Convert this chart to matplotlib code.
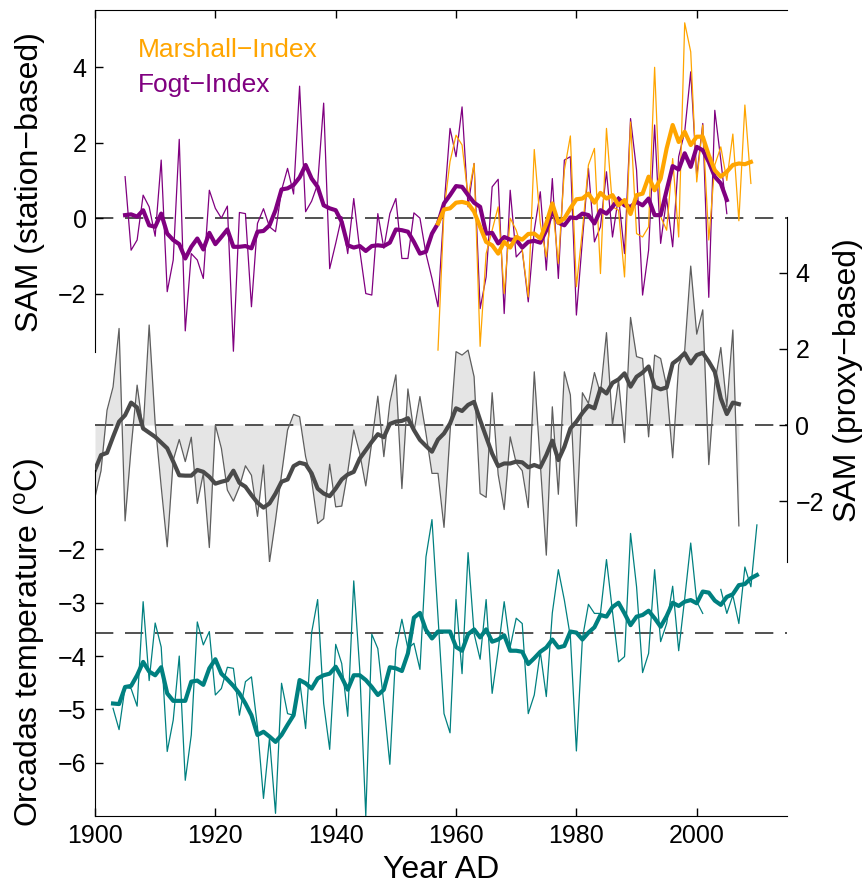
import numpy as np
import matplotlib
matplotlib.use('Agg')
from matplotlib import pyplot as plt

plt.rcParams['font.family'] = ['Liberation Sans', 'DejaVu Sans']
plt.rcParams['mathtext.fontset'] = 'custom'
plt.rcParams['mathtext.rm'] = 'Liberation Sans'
plt.rcParams['mathtext.it'] = 'Liberation Sans:italic'

# --- data ---
fogt_years = np.arange(1905, 2006)
fogt = [1.1, -0.85, -0.58, 0.61, 0.30, -0.48, 1.54, -1.95, -1.11, 2.09,
        -2.99, -0.94, -1.11, -1.60, 0.74, 0.26, 0.0, 0.32, -3.53, 0.15,
        0.12, -2.35, -0.14, 0.25, -0.23, -0.36, 0.74, 1.32, 0.64, 3.5,
        0.17, 0.45, 0.9, 3.05, -1.34, -0.67, 0.04, -0.94, 0.52, -0.85,
        -2.0, -2.04, 0.12, -0.80, 0.12, 0.52, -1.07, -1.07, 0.14, 0.0,
        -0.94, -1.6, -2.35, 0.3, 2.38, 1.63, 2.95, 0.3, 1.45, -2.4,
        -1.56, 0.83, 1.03, -2.53, 0.74, -1.03, -0.85, -2.22, -0.32, 0.70,
        -1.38, 1.05, -1.6, 1.54, 1.63, -2.57, -0.58, 1.32, -0.63, -0.23,
        1.23, -0.5, 0.57, -0.94, 2.64, 1.27, -2.04, -0.85, 2.47, -0.67,
        0.52, -0.76, 1.63, 2.29, 3.88, 1.1, 2.51, -2.1, 2.86, 1.54, 0.12]
fogt_smooth = [0.08, 0.1, 0.04, 0.21, -0.19, -0.23, 0.12, -0.41, -0.58, -0.69,
               -1.07, -0.76, -0.54, -0.83, -0.39, -0.69, -0.5, -0.3, -0.76, -0.76,
               -0.74, -0.8, -0.36, -0.34, -0.19, 0.21, 0.76, 0.79, 0.88, 1.08,
               1.41, 1.05, 0.83, 0.34, 0.26, 0.21, -0.1, -0.72, -0.78, -0.74,
               -0.87, -0.74, -0.72, -0.74, -0.65, -0.3, -0.32, -0.36, -0.63, -0.94,
               -0.89, -0.41, -0.14, 0.39, 0.61, 0.85, 0.83, 0.61, 0.41, 0.3,
               -0.41, -0.39, -0.67, -0.5, -0.57, -0.58, -0.78, -0.63, -0.6, -0.65,
               -0.32, 0.21, -0.12, -0.19, 0.02, 0.0, 0.12, 0.08, -0.14, 0.21,
               0.12, 0.3, 0.52, 0.34, 0.3, 0.43, 0.34, 0.52, 0.08, 0.08,
               0.74, 1.38, 1.29, 1.72, 1.36, 1.89, 1.8, 1.49, 1.1, 0.92, 0.48]

marshall_years = np.arange(1957, 2010)
marshall = [-3.5, 0.2, 1.5, 2.2, 1.94, 0.57, 1.45, -3.4, -0.94, -0.32,
            0.3, -2.0, 0.0, -0.32, -0.85, -2.09, 1.82, -0.14, -1.03, 0.39,
            -1.2, 1.27, 2.18, -1.82, -0.32, 1.41, 1.85, -1.47, 2.38, 0.3,
            0.21, -1.56, 2.55, -0.41, -0.5, -0.23, 4.0, 0.04, -0.32, 1.58,
            -0.5, 5.18, 4.41, 0.96, 2.47, -0.58, 1.41, 1.89, 1.0, 2.23,
            -0.07, 3.0, 0.92]
marshall_smooth = [-0.14, 0.23, 0.26, 0.41, 0.43, 0.39, 0.17, -0.23, -0.63, -0.72,
                   -0.94, -0.63, -0.78, -0.5, -0.57, -0.42, -0.41, -0.54, -0.14, 0.39,
                   -0.12, -0.01, 0.26, 0.5, 0.52, 0.65, 0.41, 0.67, 0.52, 0.61,
                   0.34, 0.48, 0.11, 0.61, 0.65, 1.1, 0.74, 1.05, 1.85, 2.47,
                   2.02, 2.29, 1.94, 2.16, 2.16, 1.67, 1.27, 1.1, 1.23, 1.41,
                   1.45, 1.43, 1.49]

proxy_years = np.arange(1900, 2008)
proxy = [-1.9, -1.2, 0.39, 1.0, 2.54, -2.52, -0.6, 1.05, -0.13, 2.63,
         0.04, -1.62, -3.2, -0.92, -0.38, -0.96, -0.32, -2.06, -1.27, -3.22,
         0.0, -0.61, -1.71, -2.0, -1.62, -1.07, -1.32, -2.4, -1.05, -3.6,
         -2.5, -1.3, -0.13, 0.28, 0.22, -0.83, -1.45, -2.59, -2.46, -1.03,
         -2.15, -2.13, -1.23, -0.13, -0.75, -1.6, -0.44, 0.76, -0.83, 0.59,
         1.32, -1.67, 0.95, -0.18, 0.75, -0.22, -1.27, -1.27, -2.69, -0.2,
         1.93, 1.84, 1.97, 1.27, -1.8, -1.9, 0.85, -1.3, -2.22, -0.31,
         -1.0, -1.2, -2.17, 1.4, -1.0, -3.42, 0.48, -1.82, 1.4, 0.79,
         -2.66, 0.85, 0.57, 1.38, 0.83, 2.43, 0.0, 1.18, -0.46, 2.83,
         1.8, 1.75, -0.31, 1.84, 1.75, 1.01, -0.86, 1.58, 1.96, 4.18,
         2.39, 3.03, -1.04, 1.1, 2.04, 0.48, 2.5, -2.65]
proxy_smooth = [-1.18, -0.79, -0.73, -0.31, 0.09, 0.26, 0.59, 0.46, -0.09, -0.2,
                -0.31, -0.46, -0.61, -0.96, -1.32, -1.33, -1.33, -1.18, -1.23, -1.36,
                -1.54, -1.49, -1.45, -1.2, -1.52, -1.62, -1.84, -2.04, -2.17, -2.06,
                -1.8, -1.49, -1.43, -1.08, -0.99, -1.03, -1.27, -1.67, -1.8, -1.87,
                -1.67, -1.43, -1.3, -1.23, -0.88, -0.66, -0.44, -0.24, -0.32, 0.03,
                0.09, 0.11, 0.18, -0.13, -0.39, -0.55, -0.7, -0.38, -0.22, 0.04,
                0.44, 0.37, 0.53, 0.61, 0.13, -0.31, -0.75, -1.08, -1.01, -1.01,
                -0.96, -0.98, -1.11, -1.05, -1.11, -0.79, -0.41, -0.92, -0.57, -0.09,
                0.09, 0.32, 0.51, 0.44, 0.96, 0.83, 1.11, 1.2, 1.36, 1.01,
                1.27, 1.38, 1.54, 1.01, 0.94, 0.99, 1.62, 1.74, 1.89, 1.62,
                1.84, 1.9, 1.67, 1.4, 0.7, 0.29, 0.59, 0.55]

orcadas_years = np.arange(1903, 2011)
orcadas = [-4.98, -5.38, -4.58, -4.61, -4.94, -2.98, -4.46, -3.38, -3.83, -5.79,
           -5.2, -4.0, -6.33, -5.48, -3.36, -3.79, -3.54, -4.73, -4.61, -4.21,
           -4.23, -5.11, -4.48, -4.39, -5.33, -6.67, -5.54, -6.95, -4.51, -5.08,
           -5.11, -4.45, -5.36, -3.56, -2.94, -4.89, -5.75, -3.78, -4.14, -5.13,
           -2.59, -4.26, -7.0, -3.59, -3.86, -4.89, -6.03, -3.88, -3.31, -3.86,
           -3.76, -4.25, -2.14, -1.44, -3.26, -5.08, -5.44, -2.94, -4.33, -2.06,
           -3.58, -4.06, -2.94, -4.7, -3.89, -2.98, -3.83, -3.29, -3.39, -5.08,
           -4.73, -3.92, -4.76, -3.19, -2.38, -2.95, -3.64, -5.78, -3.67, -3.03,
           -3.2, -3.2, -2.19, -3.17, -4.11, -4.01, -1.7, -2.7, -4.31, -3.95,
           -2.38, -3.73, -3.39, -2.69, -3.9, -2.92, -1.88, -2.98, -3.2, np.nan,
           np.nan, -2.75, -3.2, -2.86, -3.39, -2.33, -2.7, -1.54]
orcadas_smooth = [-4.89, -4.9, -4.58, -4.56, -4.36, -4.11, -4.29, -4.36, -4.21, -4.7,
                  -4.84, -4.84, -4.84, -4.48, -4.46, -4.54, -4.23, -4.06, -4.33, -4.44,
                  -4.56, -4.7, -4.89, -5.11, -5.48, -5.42, -5.51, -5.61, -5.48, -5.29,
                  -5.11, -4.45, -4.51, -4.61, -4.42, -4.36, -4.33, -4.2, -4.4, -4.63,
                  -4.36, -4.36, -4.45, -4.58, -4.73, -4.63, -4.21, -4.23, -4.28, -3.95,
                  -3.28, -3.19, -3.51, -3.67, -3.54, -3.54, -3.54, -3.83, -3.9, -3.59,
                  -3.5, -3.65, -3.5, -3.73, -3.69, -3.61, -3.9, -3.9, -3.92, -4.15,
                  -4.04, -3.92, -3.84, -3.69, -3.84, -3.81, -3.54, -3.56, -3.69, -3.56,
                  -3.46, -3.23, -3.26, -3.08, -3.0, -3.2, -3.42, -3.26, -3.23, -3.15,
                  -3.29, -3.45, -3.25, -3.0, -3.06, -2.98, -2.95, -3.01, -2.79, -2.81,
                  -2.96, -3.04, -2.89, -2.84, -2.67, -2.65, -2.54, -2.48]
orcadas_mean = -3.56

year_ticks = [1900, 1920, 1940, 1960, 1980, 2000]

ORANGE = '#FFA500'
PURPLE = '#800080'
TEAL = '#008080'
W, H = 867, 888


def rect(x0, y0, x1, y1):
    # pixel box -> figure fraction
    return [x0 / W, 1 - y1 / H, (x1 - x0) / W, (y1 - y0) / H]


def dashed_zero(ax, y):
    ax.axhline(y, color='#333333', lw=1.2, ls=(0, (11, 7)), zorder=1)


fig = plt.figure(figsize=(W / 100, H / 100), dpi=100)

tick_kw = dict(direction='in', length=6, width=1, labelsize=18, pad=6)

# middle panel: proxy-based SAM
ax_m = fig.add_axes(rect(95, 217, 787, 562))
ax_m.patch.set_visible(False)
ax_m.fill_between(proxy_years, proxy, 0, color='#e5e5e5', lw=0, zorder=0)
dashed_zero(ax_m, 0)
ax_m.plot(proxy_years, proxy, color='#5e5e5e', lw=0.9, zorder=2)
ax_m.plot(proxy_years, proxy_smooth, color='#4a4a4a', lw=3, zorder=3)
ax_m.set_xlim(1900, 2015)
ax_m.set_ylim(-3.6, 5.47)
for s in ['left', 'top', 'bottom']:
    ax_m.spines[s].set_visible(False)
ax_m.set_xticks([])
ax_m.yaxis.tick_right()
ax_m.set_yticks([-2, 0, 2, 4])
ax_m.tick_params(axis='y', **tick_kw)

# top panel: station-based SAM
ax_t = fig.add_axes(rect(95, 10, 787, 352))
ax_t.patch.set_visible(False)
dashed_zero(ax_t, 0)
ax_t.plot(fogt_years, fogt, color=PURPLE, lw=0.9, zorder=2)
ax_t.plot(marshall_years, marshall, color=ORANGE, lw=0.9, zorder=2)
ax_t.plot(fogt_years, fogt_smooth, color=PURPLE, lw=3, zorder=3)
ax_t.plot(marshall_years, marshall_smooth, color=ORANGE, lw=3, zorder=3)
ax_t.set_xlim(1900, 2015)
ax_t.set_ylim(-3.55, 5.52)
for s in ['right', 'bottom']:
    ax_t.spines[s].set_visible(False)
ax_t.xaxis.tick_top()
ax_t.set_xticks(year_ticks)
ax_t.set_xticklabels([])
ax_t.set_yticks([-2, 0, 2, 4])
ax_t.tick_params(axis='both', **tick_kw)
ax_t.text(1907.1, 4.46, 'Marshall\u2212Index', color=ORANGE, fontsize=19, va='center')
ax_t.text(1907.1, 3.53, 'Fogt\u2212Index', color=PURPLE, fontsize=19, va='center')

# bottom panel: Orcadas temperature
ax_b = fig.add_axes(rect(95, 470, 787, 816))
ax_b.patch.set_visible(False)
dashed_zero(ax_b, orcadas_mean)
ax_b.plot(orcadas_years, orcadas, color=TEAL, lw=0.9, zorder=2)
ax_b.plot(orcadas_years, orcadas_smooth, color=TEAL, lw=3, zorder=3)
ax_b.set_xlim(1900, 2015)
ax_b.set_ylim(-7.0, -0.51)
for s in ['right', 'top']:
    ax_b.spines[s].set_visible(False)
ax_b.set_xticks(year_ticks)
ax_b.set_yticks([-6, -5, -4, -3, -2])
ax_b.tick_params(axis='both', **tick_kw)

fig.text(30 / W, 1 - 182 / H, 'SAM (station\u2212based)', rotation=90,
         ha='center', va='center', fontsize=23)
fig.text(30 / W, 1 - 642 / H, r'Orcadas temperature ($^{\rm o}$C)', rotation=90,
         ha='center', va='center', fontsize=23)
fig.text(848 / W, 1 - 380 / H, 'SAM (proxy\u2212based)', rotation=90,
         ha='center', va='center', fontsize=23)
fig.text(441 / W, 1 - 870 / H, 'Year AD', ha='center', va='center', fontsize=23)

fig.savefig('out.png', dpi=100)
